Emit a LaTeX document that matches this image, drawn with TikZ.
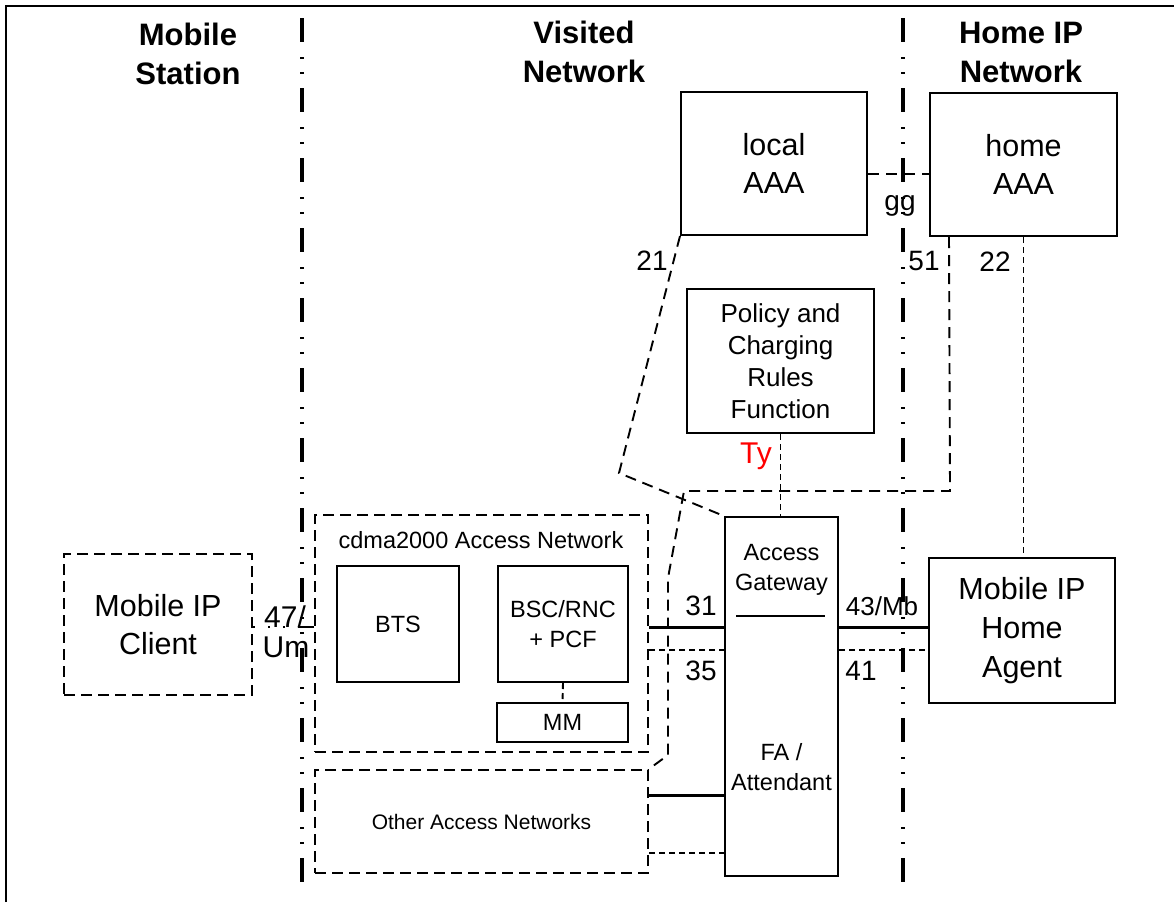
\documentclass[tikz,border=0pt]{standalone}
\usepackage{fontspec}
\setmainfont{Liberation Sans}
\usetikzlibrary{calc}
\begin{document}
\begin{tikzpicture}[x=1pt,y=-1pt,
  box/.style={draw, line width=2pt, inner sep=0pt, align=center},
  dbox/.style={box, dash pattern=on 11pt off 6pt},
  f30/.style={font=\fontsize{30.5}{38}\selectfont},
  f26/.style={font=\fontsize{26}{32}\selectfont},
  f24/.style={font=\fontsize{23.5}{30}\selectfont},
  head/.style={font=\fontsize{31}{39}\selectfont\bfseries, align=center, inner sep=0pt},
  lbl/.style={font=\fontsize{28}{34}\selectfont, anchor=base, inner sep=0pt},
  bound/.style={line width=3.2pt, dash pattern=on 24pt off 15pt on 2pt off 13pt on 2pt off 14pt},
  solidc/.style={line width=3pt},
  dl/.style={line width=1.9pt, dash pattern=on 11pt off 7pt},
  ds/.style={line width=1.9pt, dash pattern=on 6pt off 4pt},
  dotc/.style={line width=2pt, dash pattern=on 2pt off 13pt},
]
\useasboundingbox (0,0) rectangle (1174,902);
\fill[white] (0,0) rectangle (1174,902);
% frame
\draw[line width=2.8pt] (6,902) -- (6,6) -- (1174,6);
% boundaries
\draw[bound] (302,18) -- (302,890);
\draw[bound] (903,18) -- (903,890);
% headings
\node[head] (hms) at (188,54) {Mobile\\Station};
\node[head] (hvn) at (584,52) {Visited\\Network};
\node[head] (hhn) at (1021,52) {Home IP\\Network};
% boxes
\node[dbox, f30, minimum width=188pt, minimum height=141pt] (client) at (158,624.5) {Mobile IP\\Client};
\node[dbox, minimum width=333pt, minimum height=237pt] (cdma) at (481.5,633.5) {};
\node[f24, inner sep=0pt] (cdmat) at (481,540) {cdma2000 Access Network};
\node[box, f24, minimum width=122pt, minimum height=116pt] (bts) at (398,624) {BTS};
\node[box, f24, minimum width=130pt, minimum height=116pt] (bsc) at (563,624) {BSC/RNC\\+ PCF};
\node[box, f24, minimum width=131pt, minimum height=39pt] (mm) at (562.5,722.5) {MM};
\node[dbox, font=\fontsize{21}{26}\selectfont, minimum width=333pt, minimum height=103pt] (other) at (481.5,821.5) {Other Access Networks};
\node[box, f30, minimum width=186pt, minimum height=143pt] (local) at (774,163.5) {local\\AAA};
\node[box, f30, minimum width=187pt, minimum height=143pt] (home) at (1023.5,164.5) {home\\AAA};
\node[box, f26, minimum width=187pt, minimum height=144pt] (pcrf) at (780.5,361) {Policy and\\Charging\\Rules\\Function};
\node[box, minimum width=113pt, minimum height=359pt] (ag) at (781.5,696.5) {};
\node[f24, align=center, inner sep=0pt] (agt) at (781.5,570) {Access\\Gateway};
\node[f24, align=center, inner sep=0pt] (fat) at (781.5,767) {FA /\\Attendant};
\node[box, minimum width=186pt, minimum height=145pt, font=\fontsize{30.5}{39}\selectfont] (ha) at (1022,630.5) {Mobile IP\\Home\\Agent};
% separator in access gateway
\draw[line width=1.5pt] ($(ag.north west)+(12,100)$) -- ($(ag.north east)+(-14,100)$);
% coordinates
\coordinate (k21) at (619,473);
\coordinate (k51a) at (950,491);
\coordinate (k51b) at (684,491);
\coordinate (k51c) at (668,578);
\coordinate (k51d) at (668,755);
\coordinate (k47) at (300,627);
% connectors
\draw[dl] ([yshift=-10.5pt]local.east) -- ([yshift=-10.5pt]local.east -| home.west);
\draw[dl] (local.south west) -- (k21) -- (ag.north west);
\draw[dl] ([xshift=20pt]home.south west) -- (k51a) -- (k51b) -- (k51c) -- (k51d) -- (other.north east);
\draw[ds] (home.south) -- (home.south |- ha.north);
\draw[ds] (pcrf.south) -- (pcrf.south |- ag.north);
\draw[solidc] ([yshift=6.5pt]cdma.east) -- ([yshift=6.5pt]cdma.east -| ag.west);
\draw[ds] ([yshift=-16.5pt]cdma.east) -- ([yshift=-16.5pt]cdma.east -| ag.west);
\draw[solidc] ([yshift=3.5pt]ha.west -| ag.east) -- ([yshift=3.5pt]ha.west);
\draw[ds] ([yshift=-19.5pt]ha.west -| ag.east) -- ([yshift=-19.5pt]ha.west);
\draw[solidc] ([yshift=26.5pt]other.east) -- ([yshift=26.5pt]other.east -| ag.west);
\draw[ds] ([yshift=-31.5pt]other.east) -- ([yshift=-31.5pt]other.east -| ag.west);
\draw[ds] (bsc.south) -- (mm.north);
\draw[dotc] ([yshift=-2.5pt]client.east) -- (k47);
\draw[line width=2pt] (k47) -- (k47 -| cdma.west);
% labels
\node[lbl] (l21) at (652,270) {21};
\node[lbl] (l51) at (924,270) {51};
\node[lbl] (l22) at (995,271) {22};
\node[lbl] (lgg) at (900,210) {gg};
\node[lbl, text=red, font=\fontsize{30}{36}\selectfont] (lty) at (756,463) {Ty};
\node[lbl] (l31) at (701,615) {31};
\node[lbl] (l35) at (701,680) {35};
\node[lbl, font=\fontsize{26}{32}\selectfont] (l43) at (882,615) {43/Mb};
\node[lbl] (l41) at (861,680) {41};
\node[lbl, font=\fontsize{30}{36}\selectfont] (l47) at (285,627) {47/};
\node[lbl, font=\fontsize{30}{36}\selectfont] (lum) at (286,657) {Um};
\end{tikzpicture}
\end{document}
